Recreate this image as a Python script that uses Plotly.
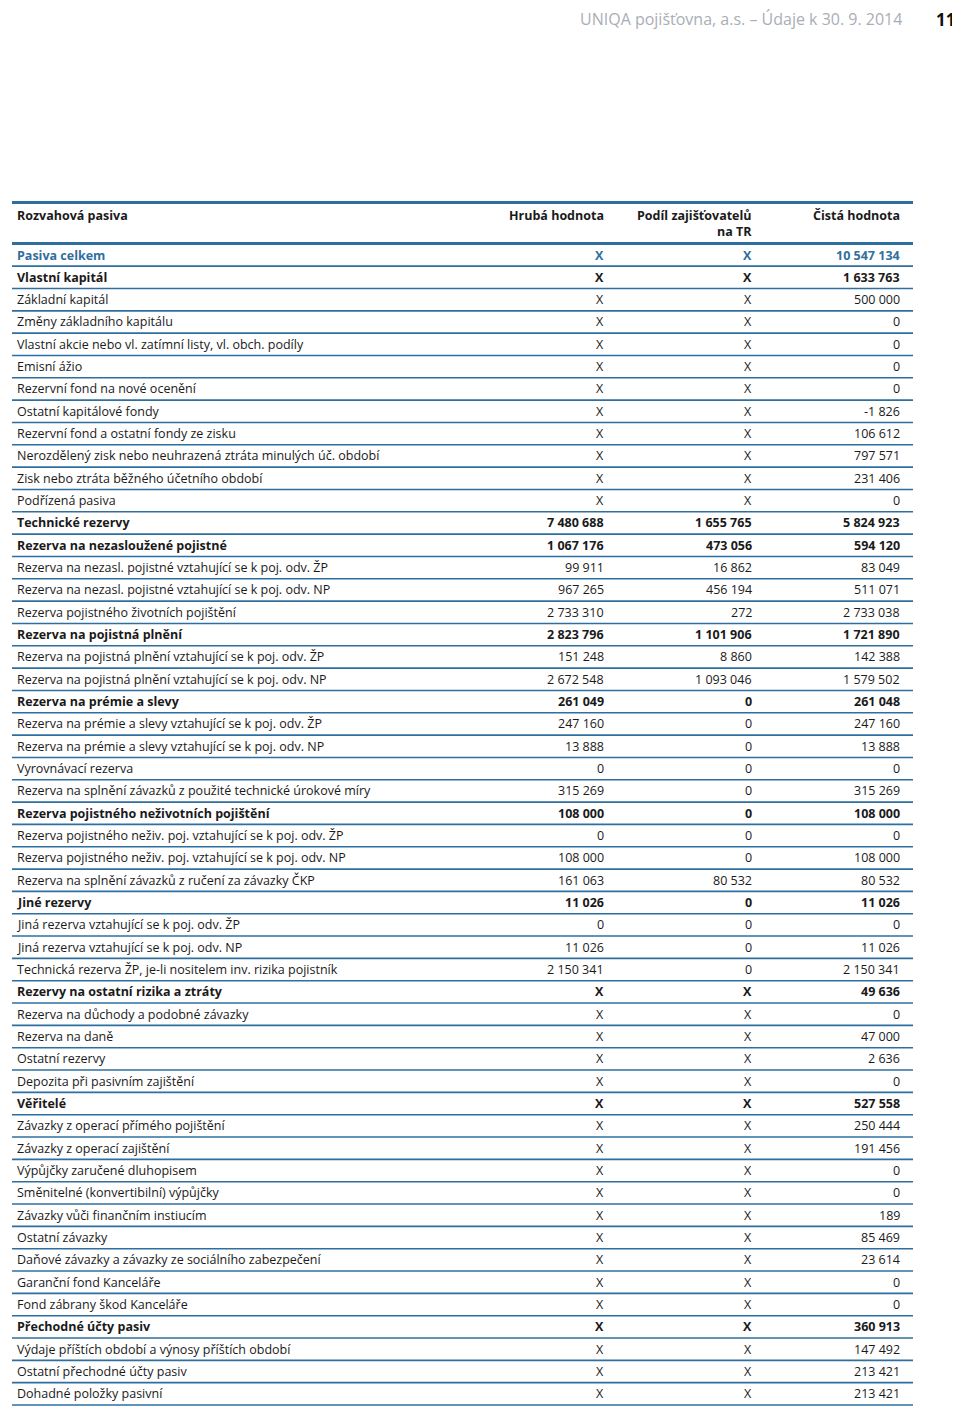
import plotly.graph_objects as go

# ---------------- data ----------------
title_text = "UNIQA pojišťovna, a.s. – Údaje k 30. 9. 2014"
page_no = "11"
col_headers = ["Rozvahová pasiva", "Hrubá hodnota", "Podíl zajišťovatelů<br>na TR", "Čistá hodnota"]

labels = [
    "Pasiva celkem",
    "Vlastní kapitál",
    "Základní kapitál",
    "Změny základního kapitálu",
    "Vlastní akcie nebo vl. zatímní listy, vl. obch. podíly",
    "Emisní ážio",
    "Rezervní fond na nové ocenění",
    "Ostatní kapitálové fondy",
    "Rezervní fond a ostatní fondy ze zisku",
    "Nerozdělený zisk nebo neuhrazená ztráta minulých úč. období",
    "Zisk nebo ztráta běžného účetního období",
    "Podřízená pasiva",
    "Technické rezervy",
    "Rezerva na nezasloužené pojistné",
    "Rezerva na nezasl. pojistné vztahující se k poj. odv. ŽP",
    "Rezerva na nezasl. pojistné vztahující se k poj. odv. NP",
    "Rezerva pojistného životních pojištění",
    "Rezerva na pojistná plnění",
    "Rezerva na pojistná plnění vztahující se k poj. odv. ŽP",
    "Rezerva na pojistná plnění vztahující se k poj. odv. NP",
    "Rezerva na prémie a slevy",
    "Rezerva na prémie a slevy vztahující se k poj. odv. ŽP",
    "Rezerva na prémie a slevy vztahující se k poj. odv. NP",
    "Vyrovnávací rezerva",
    "Rezerva na splnění závazků z použité technické úrokové míry",
    "Rezerva pojistného neživotních pojištění",
    "Rezerva pojistného neživ. poj. vztahující se k poj. odv. ŽP",
    "Rezerva pojistného neživ. poj. vztahující se k poj. odv. NP",
    "Rezerva na splnění závazků z ručení za závazky ČKP",
    "Jiné rezervy",
    "Jiná rezerva vztahující se k poj. odv. ŽP",
    "Jiná rezerva vztahující se k poj. odv. NP",
    "Technická rezerva ŽP, je-li nositelem inv. rizika pojistník",
    "Rezervy na ostatní rizika a ztráty",
    "Rezerva na důchody a podobné závazky",
    "Rezerva na daně",
    "Ostatní rezervy",
    "Depozita při pasivním zajištění",
    "Věřitelé",
    "Závazky z operací přímého pojištění",
    "Závazky z operací zajištění",
    "Výpůjčky zaručené dluhopisem",
    "Směnitelné (konvertibilní) výpůjčky",
    "Závazky vůči finančním instiucím",
    "Ostatní závazky",
    "Daňové závazky a závazky ze sociálního zabezpečení",
    "Garanční fond Kanceláře",
    "Fond zábrany škod Kanceláře",
    "Přechodné účty pasiv",
    "Výdaje příštích období a výnosy příštích období",
    "Ostatní přechodné účty pasiv",
    "Dohadné položky pasivní",
]

# None = "X"
gross = [
    None, None, None, None, None, None, None, None, None, None, None, None,
    7480688, 1067176, 99911, 967265, 2733310, 2823796, 151248, 2672548,
    261049, 247160, 13888, 0, 315269, 108000, 0, 108000, 161063, 11026,
    0, 11026, 2150341,
    None, None, None, None, None, None, None, None, None, None, None, None,
    None, None, None, None, None, None, None,
]
reinsurance = [
    None, None, None, None, None, None, None, None, None, None, None, None,
    1655765, 473056, 16862, 456194, 272, 1101906, 8860, 1093046,
    0, 0, 0, 0, 0, 0, 0, 0, 80532, 0,
    0, 0, 0,
    None, None, None, None, None, None, None, None, None, None, None, None,
    None, None, None, None, None, None, None,
]
net = [
    10547134, 1633763, 500000, 0, 0, 0, 0, -1826, 106612, 797571, 231406, 0,
    5824923, 594120, 83049, 511071, 2733038, 1721890, 142388, 1579502,
    261048, 247160, 13888, 0, 315269, 108000, 0, 108000, 80532, 11026,
    0, 11026, 2150341,
    49636, 0, 47000, 2636, 0,
    527558, 250444, 191456, 0, 0, 189, 85469, 23614, 0, 0,
    360913, 147492, 213421, 213421,
]
bold_rows = {
    "Pasiva celkem", "Vlastní kapitál", "Technické rezervy",
    "Rezerva na nezasloužené pojistné", "Rezerva na pojistná plnění",
    "Rezerva na prémie a slevy", "Rezerva pojistného neživotních pojištění",
    "Jiné rezervy", "Rezervy na ostatní rizika a ztráty", "Věřitelé",
    "Přechodné účty pasiv",
}
highlight_rows = {"Pasiva celkem"}

# ---------------- style ----------------
FONT = "Open Sans"
FS = 12.5
BLUE = "#2f6f9f"
TEXT = "#1a1a1a"
PAGE_W, PAGE_H = 960, 1414
OFF = 8  # default body margin of the html page
W, H = PAGE_W - OFF, PAGE_H - OFF
ROW0_PX, ROW_STEP = 255.0, 22.33


def fmt(v):
    if v is None:
        return "X"
    s = f"{abs(v):,}".replace(",", " ")
    return ("-" if v < 0 else "") + s


def py(px):
    """page pixel row -> data y"""
    return (px - ROW0_PX) / ROW_STEP


n = len(labels)
fig = go.Figure()
# invisible trace to anchor axes
fig.add_trace(go.Scatter(x=[OFF, PAGE_W], y=[0, 1], mode="markers",
                         marker=dict(opacity=0), hoverinfo="skip", showlegend=False))

ann = []
col_x = [15, 606, 754, 902]
for i, lab in enumerate(labels):
    b = lab in bold_rows
    color = BLUE if lab in highlight_rows else TEXT
    wt = "bold" if b else "normal"
    f = dict(family=FONT, size=FS, color=color, weight=wt)
    ann.append(dict(x=col_x[0], y=i, text=lab, xanchor="left", yanchor="middle", font=f))
    for cx, arr in zip(col_x[1:], [gross, reinsurance, net]):
        ann.append(dict(x=cx, y=i, text=fmt(arr[i]), xanchor="right", yanchor="middle", font=f))

hf = dict(family=FONT, size=FS, color=TEXT, weight="bold")
ann.append(dict(x=col_x[0], y=py(215), text=col_headers[0], xanchor="left", yanchor="middle", font=hf))
ann.append(dict(x=col_x[1], y=py(215), text=col_headers[1], xanchor="right", yanchor="middle", font=hf))
ann.append(dict(x=col_x[2], y=py(223), text=col_headers[2], xanchor="right", yanchor="middle",
                align="right", font=hf))
ann.append(dict(x=col_x[3], y=py(215), text=col_headers[3], xanchor="right", yanchor="middle", font=hf))

ann.append(dict(x=904, y=py(19), text=title_text, xanchor="right", yanchor="middle",
                font=dict(family=FONT, size=16, color="#a9aeb6")))
ann.append(dict(x=957, y=py(19), text=page_no, xanchor="right", yanchor="middle",
                font=dict(family=FONT, size=17, color="#111111", weight="bold")))

for a in ann:
    a.update(xref="x", yref="y", showarrow=False)

shapes = []
for yv in [py(202.5), py(243.5)]:
    shapes.append(dict(type="line", xref="x", yref="y", x0=12, x1=913, y0=yv, y1=yv,
                       line=dict(color=BLUE, width=3)))
for i in range(n):
    yv = i + 0.5
    shapes.append(dict(type="line", xref="x", yref="y", x0=12, x1=913, y0=yv, y1=yv,
                       line=dict(color=BLUE, width=1.6)))

fig.update_layout(
    width=W, height=H,
    margin=dict(l=0, r=0, t=0, b=0),
    paper_bgcolor="white", plot_bgcolor="white",
    xaxis=dict(range=[OFF, PAGE_W], visible=False, fixedrange=True),
    yaxis=dict(range=[py(PAGE_H), py(OFF)], visible=False, fixedrange=True),
    annotations=ann, shapes=shapes, showlegend=False,
)

fig.write_html("out.html")
